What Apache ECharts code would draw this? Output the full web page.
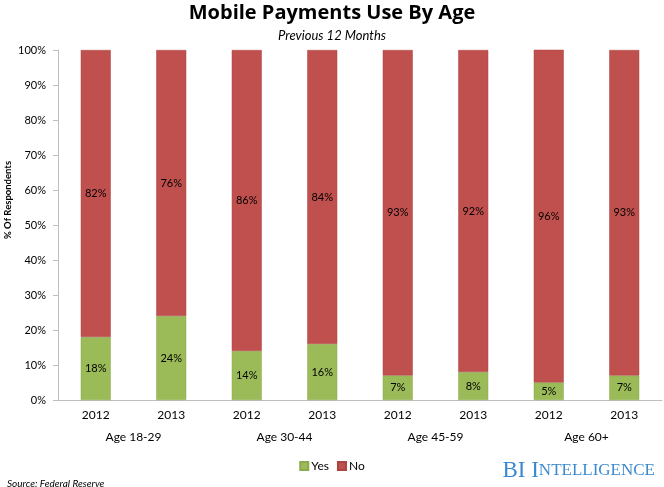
<!DOCTYPE html>
<html><head><meta charset="utf-8">
<script src="https://cdn.jsdelivr.net/npm/echarts@6/dist/echarts.min.js"></script>
<style>html,body{margin:0;padding:0;background:#fff}#c{width:664px;height:487px}</style>
</head><body><div id="c"></div>
<script>
var years = ['2012','2013','2012','2013','2012','2013','2012','2013'];
var groups = ['Age 18-29','Age 30-44','Age 45-59','Age 60+'];
var yesVals = [18,24,14,16,7,8,5,7];
var noVals = [82,76,86,84,93,92,96,93];
var yTicks = [0,10,20,30,40,50,60,70,80,90,100];

var FONT = 'Lato, "Open Sans", sans-serif';
var chart = echarts.init(document.getElementById('c'));
chart.setOption({
  animation: false,
  textStyle: {fontFamily: FONT},
  title: [
    {text: 'Mobile Payments Use By Age', left: 'center', top: -2,
     textStyle: {fontSize: 20, fontWeight: 'bold', color: '#000', fontFamily: '"Open Sans", sans-serif'}},
    {text: 'Previous 12 Months', left: 'center', top: 24,
     textStyle: {fontSize: 13, fontStyle: 'italic', fontWeight: 'normal', color: '#000', fontFamily: FONT}},
    {text: 'Source: Federal Reserve', left: 2, top: 474,
     textStyle: {fontSize: 10, fontStyle: 'italic', fontWeight: 'normal', color: '#000', fontFamily: FONT}},
    {text: '{a|BI I}{b|NTELLIGENCE}', right: 4, top: 454,
     textStyle: {rich: {
       a: {fontSize: 23, fontWeight: 'normal', fontFamily: '"Liberation Serif", serif', color: '#3b8ad0'},
       b: {fontSize: 17, fontWeight: 'normal', fontFamily: '"Liberation Serif", serif', color: '#3b8ad0'}}}}
  ],
  legend: {
    data: ['Yes','No'], left: 'center', top: 455,
    itemWidth: 8, itemHeight: 8, itemGap: 8, icon: 'rect',
    textStyle: {fontSize: 12, color: '#000', fontFamily: FONT, padding: [0,0,0,-2]}
  },
  grid: {left: 58, right: 2, top: 50, bottom: 87, containLabel: false, outerBoundsMode: 'none'},
  xAxis: [
    {type: 'category', data: years, position: 'bottom',
     axisLine: {lineStyle: {color: '#bfbfbf'}},
     axisTick: {interval: 0, length: 22, lineStyle: {color: '#bfbfbf'}},
     axisLabel: {interval: 0, margin: 9, fontSize: 12, color: '#000', fontFamily: FONT}},
    {type: 'category', data: groups, position: 'bottom',
     axisLine: {show: false},
     axisTick: {interval: 0, length: 45, lineStyle: {color: '#bfbfbf'}},
     axisLabel: {interval: 0, margin: 31, fontSize: 12, color: '#000', fontFamily: FONT}}
  ],
  yAxis: {
    type: 'value', min: 0, max: 100, interval: 10,
    name: '% Of Respondents', nameLocation: 'middle', nameGap: 45, nameMoveOverlap: false,
    nameTextStyle: {fontSize: 9.5, fontWeight: 'bold', color: '#000', fontFamily: FONT, padding: [0,0,0,50]},
    axisLine: {show: true, lineStyle: {color: '#bfbfbf'}},
    axisTick: {show: true, length: 5, lineStyle: {color: '#bfbfbf'}},
    splitLine: {show: false},
    axisLabel: {formatter: '{value}%', margin: 12, fontSize: 11, color: '#000', fontFamily: FONT}
  },
  series: [
    {name: 'Yes', type: 'bar', stack: 's', xAxisIndex: 0, barWidth: 30, data: yesVals,
     itemStyle: {color: '#9bbb59', borderColor: '#8aaa4c', borderWidth: 0.5},
     label: {show: true, position: 'inside', formatter: '{c}%', fontSize: 11, color: '#000', fontFamily: FONT}},
    {name: 'No', type: 'bar', stack: 's', xAxisIndex: 0, barWidth: 30, data: noVals,
     itemStyle: {color: '#c0504d', borderColor: '#a84542', borderWidth: 0.5},
     label: {show: true, position: 'inside', formatter: '{c}%', fontSize: 11, color: '#000', fontFamily: FONT}}
  ]
});
</script></body></html>
